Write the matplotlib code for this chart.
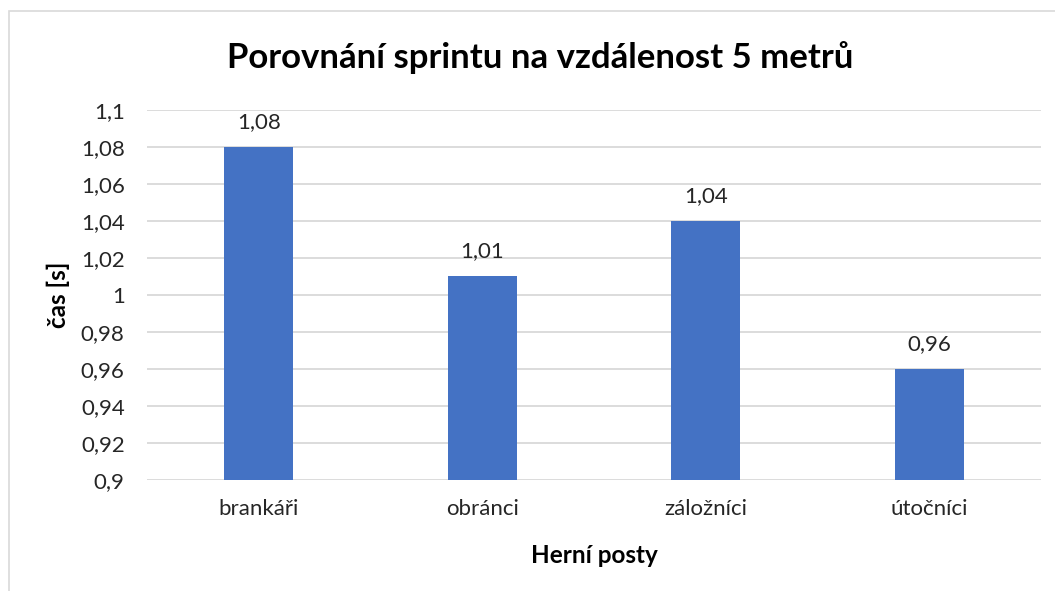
import matplotlib.pyplot as plt
from matplotlib.patches import Rectangle
from matplotlib.ticker import FuncFormatter, MultipleLocator

plt.rcParams['font.family'] = ['Lato', 'DejaVu Sans']

categories = ['brankáři', 'obránci', 'záložníci', 'útočníci']
times = [1.08, 1.01, 1.04, 0.96]


def comma(v, pos=None):
    s = ('%.2f' % v).rstrip('0').rstrip('.')
    return s.replace('.', ',')


fig = plt.figure(figsize=(10.55, 5.91), dpi=100)
ax = fig.add_axes([0.1393, 0.1878, 0.8474, 0.6261])

x = range(len(categories))
ax.bar(x, times, width=0.31, color='#4472c4', zorder=3)
for xi, v in zip(x, times):
    ax.annotate(comma(v), (xi, v), xytext=(0, 18), textcoords='offset points',
                ha='center', va='center', fontsize=16, color='#262626')

ax.set_xlim(-0.5, len(categories) - 0.5)
ax.set_ylim(0.9, 1.1)
ax.yaxis.set_major_locator(MultipleLocator(0.02))
ax.yaxis.set_major_formatter(FuncFormatter(comma))
ax.set_xticks(list(x))
ax.set_xticklabels(categories)
ax.grid(axis='y', color='#d9d9d9', lw=1.3, zorder=0)
for s in ax.spines.values():
    s.set_visible(False)
ax.tick_params(length=0, labelsize=16, labelcolor='#262626')
ax.tick_params(axis='y', pad=16)
ax.tick_params(axis='x', pad=14)

ax.set_ylabel('čas [s]', fontsize=17.5, fontweight='bold', labelpad=8)
ax.set_xlabel('Herní posty', fontsize=17.5, fontweight='bold', labelpad=18)
fig.text(0.512, 0.903, 'Porovnání sprintu na vzdálenost 5 metrů', ha='center', va='center',
         fontsize=25, fontweight='bold', color='#000000')

fig.patches.append(Rectangle((8.5 / 1055, -0.1), 1.2, 1 - 11 / 591 + 0.1, transform=fig.transFigure,
                             fill=False, edgecolor='#d9d9d9', lw=1.2))

fig.savefig('out.png', dpi=100, facecolor='white')
